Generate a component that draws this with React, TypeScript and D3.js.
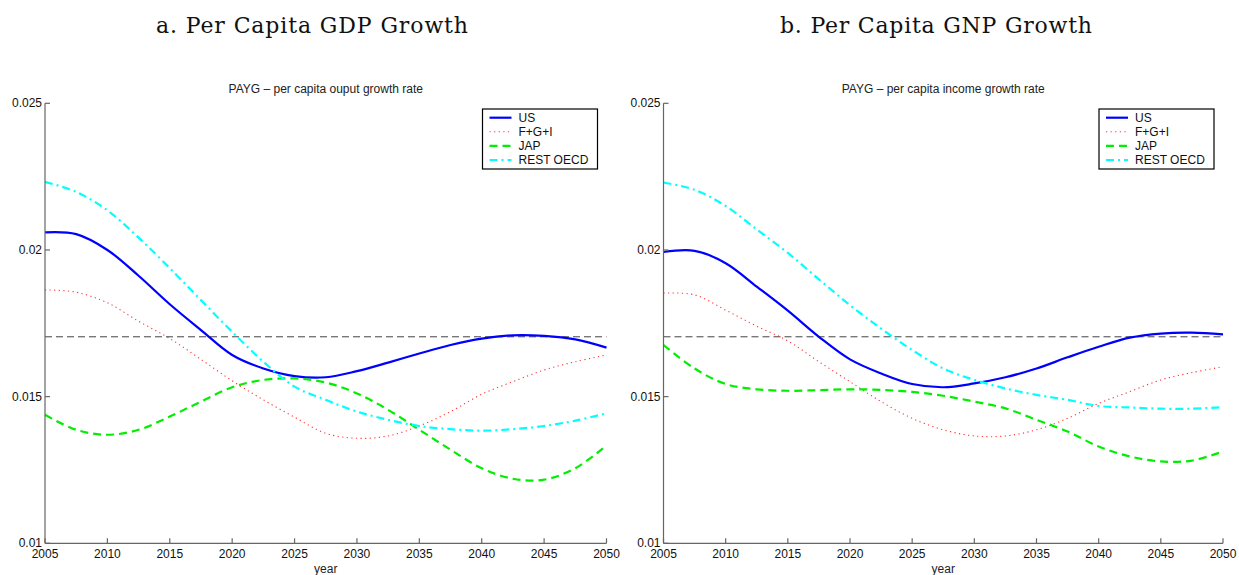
import React from 'react';
import * as d3 from 'd3';

const YEARS = [
  2005, 2007.5, 2010, 2012.5, 2015, 2017.5, 2020, 2022.5, 2025, 2027.5,
  2030, 2032.5, 2035, 2037.5, 2040, 2042.5, 2045, 2047.5, 2050
];

const SERIES_NAMES = ['US', 'F+G+I', 'JAP', 'REST OECD'];

// a. per capita output (GDP) growth
const GDP_US = [
  0.0206, 0.02054, 0.0200, 0.01912, 0.01815, 0.01727, 0.01642, 0.01596, 0.0157, 0.01566,
  0.01587, 0.01616, 0.01647, 0.01676, 0.01698, 0.01709, 0.01707, 0.01695, 0.01667
];
const GDP_FGI = [
  0.01864, 0.01856, 0.0182, 0.01757, 0.01698, 0.01627, 0.01554, 0.01489, 0.0143, 0.01375,
  0.01358, 0.01366, 0.014, 0.01449, 0.01508, 0.01551, 0.01591, 0.01619, 0.01642
];
const GDP_JAP = [
  0.01438, 0.01387, 0.0137, 0.01387, 0.01432, 0.01483, 0.01532, 0.01557, 0.01562, 0.01548,
  0.01511, 0.01455, 0.01387, 0.01319, 0.01256, 0.0122, 0.01217, 0.01256, 0.01333
];
const GDP_ROECD = [
  0.02232, 0.02198, 0.02135, 0.02042, 0.01938, 0.01829, 0.01721, 0.01619, 0.01534, 0.01489,
  0.01449, 0.01421, 0.014, 0.01389, 0.01384, 0.01389, 0.014, 0.01418, 0.01443
];

// b. per capita income (GNP) growth
const GNP_US = [
  0.01993, 0.01997, 0.01955, 0.01875, 0.01793, 0.01704, 0.01627, 0.01579, 0.01543, 0.01532,
  0.01545, 0.01566, 0.01596, 0.01634, 0.0167, 0.01701, 0.01715, 0.01718, 0.01712
];
const GNP_FGI = [
  0.01853, 0.01847, 0.01795, 0.0174, 0.0169, 0.01619, 0.01551, 0.01483, 0.01426, 0.01387,
  0.01366, 0.01366, 0.01387, 0.01426, 0.01477, 0.01517, 0.01557, 0.01582, 0.01602
];
const GNP_JAP = [
  0.01676, 0.01596, 0.01543, 0.01525, 0.0152, 0.01522, 0.01525, 0.01523, 0.01516, 0.01503,
  0.01483, 0.0146, 0.01421, 0.01381, 0.0133, 0.01296, 0.01279, 0.01282, 0.01313
];
const GNP_ROECD = [
  0.0223, 0.02205, 0.0215, 0.0207, 0.0199, 0.019, 0.01812, 0.01732, 0.01659, 0.01596,
  0.01557, 0.01528, 0.01506, 0.01489, 0.01468, 0.01463, 0.01459, 0.01459, 0.01464
];

const BENCHMARK = 0.01704;

const X_TICKS = [2005, 2010, 2015, 2020, 2025, 2030, 2035, 2040, 2045, 2050];
const Y_TICKS = [0.01, 0.015, 0.02, 0.025];
const Y_TICK_LABELS = ['0.01', '0.015', '0.02', '0.025'];

const PANEL_TITLES = ['a. Per Capita GDP Growth', 'b. Per Capita GNP Growth'];
const PLOT_TITLES = ['PAYG \u2013 per capita ouput growth rate', 'PAYG \u2013 per capita income growth rate'];

const STYLES = [
  { color: '#0000ff', width: 2.2, dash: '' },
  { color: '#ff3333', width: 1.1, dash: '1.2 3.4' },
  { color: '#00ee00', width: 2.2, dash: '8 5' },
  { color: '#00ffff', width: 2.2, dash: '8 4 2 4' }
];

const SANS = 'Liberation Sans, Arial, Helvetica, sans-serif';

interface PanelProps {
  left: number;
  right: number;
  titleX: number;
  title: string;
  plotTitle: string;
  series: number[][];
}

const Panel: React.FC<PanelProps> = ({ left, right, titleX, title, plotTitle, series }) => {
  const top = 103.3;
  const bottom = 543.3;
  const x = d3.scaleLinear().domain([2005, 2050]).range([left, right]);
  const y = d3.scaleLinear().domain([0.01, 0.025]).range([bottom, top]);
  const mid = (left + right) / 2;

  const line = d3
    .line<number>()
    .x((_, i) => x(YEARS[i]))
    .y((d) => y(d))
    .curve(d3.curveCatmullRom.alpha(0.5));

  const legendX = right - 124;
  const legendY = 109;

  return (
    <g>
      <text
        x={titleX}
        y={33}
        textAnchor="middle"
        fontFamily="DejaVu Serif, serif"
        fontSize={22}
        fill="#111"
        textLength={312}
        lengthAdjust="spacing"
      >
        {title}
      </text>
      <text x={mid} y={93} textAnchor="middle" fontFamily={SANS} fontSize={12} fill="#222">
        {plotTitle}
      </text>

      {/* benchmark */}
      <line
        x1={x(2005)}
        x2={x(2050)}
        y1={y(BENCHMARK)}
        y2={y(BENCHMARK)}
        stroke="#444"
        strokeWidth={1}
        strokeDasharray="7 4"
      />

      {series.map((values, i) => (
        <path
          key={SERIES_NAMES[i]}
          d={line(values) || ''}
          fill="none"
          stroke={STYLES[i].color}
          strokeWidth={STYLES[i].width}
          strokeDasharray={STYLES[i].dash}
        />
      ))}

      {/* axes */}
      <line x1={left} x2={left} y1={top} y2={bottom} stroke="#666" strokeWidth={1.2} />
      <line x1={left} x2={right} y1={bottom} y2={bottom} stroke="#666" strokeWidth={1.2} />
      {Y_TICKS.map((t, i) => (
        <g key={t}>
          <line x1={left} x2={left + 5} y1={y(t)} y2={y(t)} stroke="#666" strokeWidth={1.2} />
          <text x={left - 3} y={y(t) + 4} textAnchor="end" fontFamily={SANS} fontSize={12} fill="#111">
            {Y_TICK_LABELS[i]}
          </text>
        </g>
      ))}
      {X_TICKS.map((t) => (
        <g key={t}>
          <line x1={x(t)} x2={x(t)} y1={bottom} y2={bottom - 5} stroke="#666" strokeWidth={1.2} />
          <text x={x(t)} y={bottom + 15} textAnchor="middle" fontFamily={SANS} fontSize={12} fill="#111">
            {t}
          </text>
        </g>
      ))}
      <text x={mid} y={573} textAnchor="middle" fontFamily={SANS} fontSize={12} fill="#222">
        year
      </text>

      {/* legend */}
      <rect x={legendX} y={legendY} width={115} height={60} fill="#fff" stroke="#000" strokeWidth={1.2} />
      {SERIES_NAMES.map((name, i) => {
        const cy = legendY + 8.7 + i * 14.1;
        return (
          <g key={name}>
            <line
              x1={legendX + 7}
              x2={legendX + 29}
              y1={cy}
              y2={cy}
              stroke={STYLES[i].color}
              strokeWidth={STYLES[i].width}
              strokeDasharray={STYLES[i].dash}
            />
            <text x={legendX + 36} y={cy + 4.3} fontFamily={SANS} fontSize={12} fill="#111">
              {name}
            </text>
          </g>
        );
      })}
    </g>
  );
};

export default function App() {
  return (
    <svg
      width={1239}
      height={575}
      viewBox="0 0 1239 575"
      style={{ position: 'absolute', left: 0, top: 0, background: '#fff' }}
    >
      <Panel
        left={45}
        right={606.5}
        titleX={312}
        title={PANEL_TITLES[0]}
        plotTitle={PLOT_TITLES[0]}
        series={[GDP_US, GDP_FGI, GDP_JAP, GDP_ROECD]}
      />
      <Panel
        left={663.5}
        right={1223}
        titleX={936}
        title={PANEL_TITLES[1]}
        plotTitle={PLOT_TITLES[1]}
        series={[GNP_US, GNP_FGI, GNP_JAP, GNP_ROECD]}
      />
    </svg>
  );
}
